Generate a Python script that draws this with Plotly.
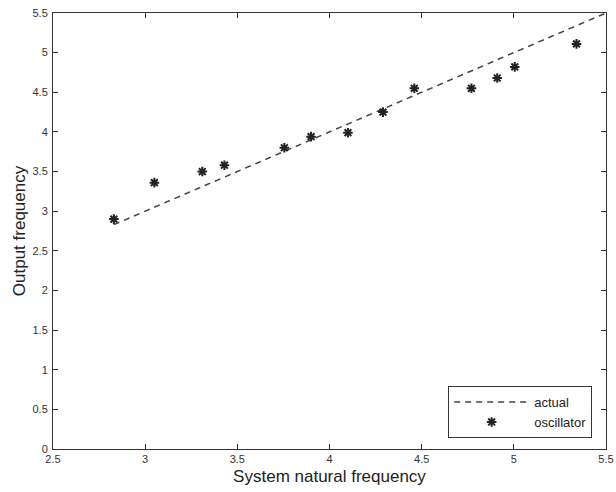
import plotly.graph_objects as go

# Data
osc_x = [2.83, 3.05, 3.31, 3.43, 3.755, 3.90, 4.10, 4.29, 4.46, 4.77, 4.91, 5.005, 5.34]
osc_y = [2.90, 3.36, 3.50, 3.58, 3.80, 3.94, 3.99, 4.25, 4.55, 4.55, 4.68, 4.82, 5.11]
actual_x = [2.83, 5.5]
actual_y = [2.83, 5.5]

x_ticks = [2.5, 3, 3.5, 4, 4.5, 5, 5.5]
x_tick_labels = ["2.5", "3", "3.5", "4", "4.5", "5", "5.5"]
y_ticks = [0, 0.5, 1, 1.5, 2, 2.5, 3, 3.5, 4, 4.5, 5, 5.5]
y_tick_labels = ["0", "0.5", "1", "1.5", "2", "2.5", "3", "3.5", "4", "4.5", "5", "5.5"]

FONT = "Liberation Sans, Arial, sans-serif"

fig = go.Figure()
fig.add_trace(go.Scatter(
    x=actual_x, y=actual_y, mode="lines", name="actual",
    line=dict(color="#444444", width=1.5, dash="6px,5px"),
))
fig.add_trace(go.Scatter(
    x=osc_x, y=osc_y, mode="markers", name="oscillator",
    marker=dict(symbol="asterisk-open", size=8, color="#222222",
                line=dict(color="#222222", width=2)),
))

axis_common = dict(
    showline=True, linecolor="#333333", linewidth=1, mirror="ticks",
    ticks="inside", ticklen=5, tickcolor="#333333",
    showgrid=False, zeroline=False, automargin=False,
    tickfont=dict(family=FONT, size=11, color="#333333"),
)

fig.update_layout(
    width=616, height=492,
    margin=dict(l=53, r=10, t=13, b=43),
    paper_bgcolor="white", plot_bgcolor="white",
    showlegend=True,
    legend=dict(
        x=0.975, y=0.025, xanchor="right", yanchor="bottom",
        bordercolor="#333333", borderwidth=1, bgcolor="white",
        font=dict(family=FONT, size=13, color="#222222"),
        tracegroupgap=0, itemwidth=75,
    ),
    xaxis=dict(
        range=[2.5, 5.5], tickvals=x_ticks, ticktext=x_tick_labels,
        title=dict(text="System natural frequency", standoff=5,
                   font=dict(family=FONT, size=17, color="#222222")),
        **axis_common,
    ),
    yaxis=dict(
        range=[0, 5.5], tickvals=y_ticks, ticktext=y_tick_labels,
        ticklabelstandoff=2,
        title=dict(text="Output frequency", standoff=2,
                   font=dict(family=FONT, size=17, color="#222222")),
        **axis_common,
    ),
)

fig.write_html(
    "out.html",
    config={"displayModeBar": False},
    post_script="document.body.style.margin='0';document.body.style.overflow='hidden';",
)
